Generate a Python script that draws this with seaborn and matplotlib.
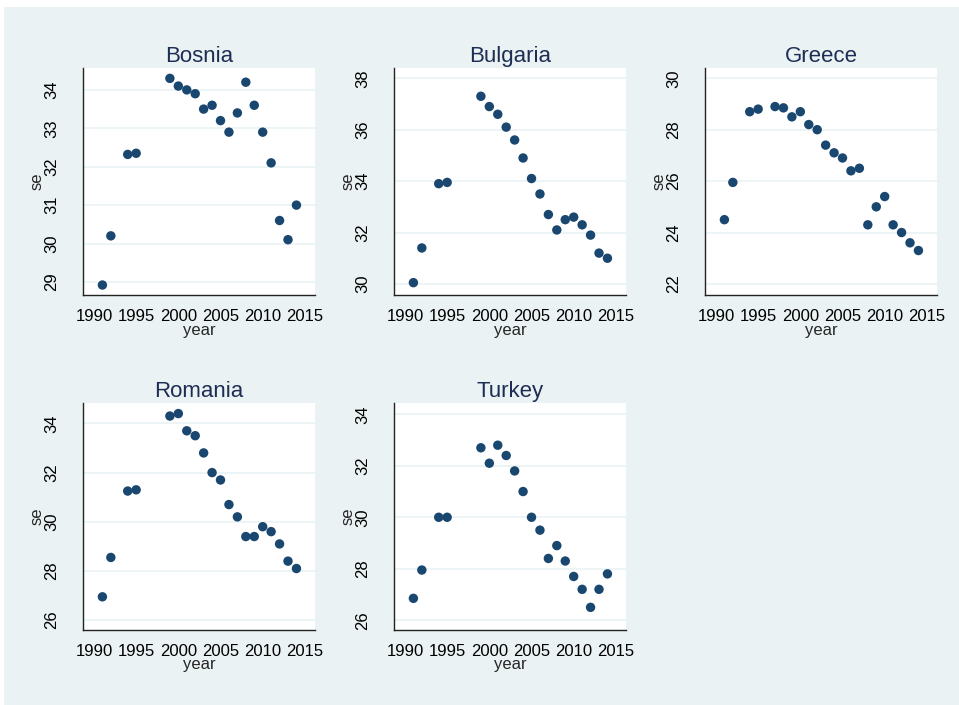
import pandas as pd
import seaborn as sns
import matplotlib.pyplot as plt
from matplotlib.patches import Rectangle

sns.set_style('white')
plt.rcParams['font.family'] = ['Liberation Sans', 'DejaVu Sans']

years = [1991, 1992, 1994, 1995, 1999, 2000, 2001, 2002, 2003, 2004,
         2005, 2006, 2007, 2008, 2009, 2010, 2011, 2012, 2013, 2014]
years_greece = [1991, 1992, 1994, 1995, 1997, 1998, 1999, 2000, 2001, 2002, 2003,
                2004, 2005, 2006, 2007, 2008, 2009, 2010, 2011, 2012, 2013, 2014]

bosnia = [28.92, 30.2, 32.32, 32.35, 34.3, 34.1, 34.0, 33.9, 33.5, 33.6,
          33.2, 32.9, 33.4, 34.2, 33.6, 32.9, 32.1, 30.6, 30.1, 31.0]
bulgaria = [30.05, 31.4, 33.9, 33.95, 37.3, 36.9, 36.6, 36.1, 35.6, 34.9,
            34.1, 33.5, 32.7, 32.1, 32.5, 32.6, 32.3, 31.9, 31.2, 31.0]
greece = [24.5, 25.95, 28.7, 28.8, 28.9, 28.85, 28.5, 28.7, 28.2, 28.0, 27.4,
          27.1, 26.9, 26.4, 26.5, 24.3, 25.0, 25.4, 24.3, 24.0, 23.6, 23.3]
romania = [26.95, 28.55, 31.25, 31.3, 34.3, 34.4, 33.7, 33.5, 32.8, 32.0,
           31.7, 30.7, 30.2, 29.4, 29.4, 29.8, 29.6, 29.1, 28.4, 28.1]
turkey = [26.85, 27.95, 30.0, 30.0, 32.7, 32.1, 32.8, 32.4, 31.8, 31.0,
          30.0, 29.5, 28.4, 28.9, 28.3, 27.7, 27.2, 26.5, 27.2, 27.8]

countries = ['Bosnia', 'Bulgaria', 'Greece', 'Romania', 'Turkey']
series = {'Bosnia': (years, bosnia), 'Bulgaria': (years, bulgaria),
          'Greece': (years_greece, greece), 'Romania': (years, romania),
          'Turkey': (years, turkey)}
yticks = {'Bosnia': [29, 30, 31, 32, 33, 34], 'Bulgaria': [30, 32, 34, 36, 38],
          'Greece': [22, 24, 26, 28, 30], 'Romania': [26, 28, 30, 32, 34],
          'Turkey': [26, 28, 30, 32, 34]}
ylims = {'Bosnia': (28.66, 34.57), 'Bulgaria': (29.57, 38.4), 'Greece': (21.57, 30.4),
         'Romania': (25.6, 34.83), 'Turkey': (25.62, 34.44)}

rows = []
for c in countries:
    for y, v in zip(*series[c]):
        rows.append({'country': c, 'year': y, 'se': v})
df = pd.DataFrame(rows)

W, H = 959, 705
bg = '#EAF2F3'
fig = plt.figure(figsize=(W / 100, H / 100), dpi=100)
fig.patch.set_facecolor('white')
# light stata-like background, leaves a thin white strip top and left
fig.add_artist(Rectangle((4 / W, 0), 1, 1 - 7 / H, transform=fig.transFigure,
                         facecolor=bg, edgecolor='none', zorder=-10))

lefts = [83, 394, 705]
positions = [(lefts[0], 68), (lefts[1], 68), (lefts[2], 68), (lefts[0], 403), (lefts[1], 403)]
aw, ah = 232, 227

for c, (lx, ty) in zip(countries, positions):
    ax = fig.add_axes([lx / W, 1 - (ty + ah) / H, aw / W, ah / H])
    ax.set_facecolor('white')
    sns.scatterplot(data=df[df['country'] == c], x='year', y='se', ax=ax,
                    color='#1A476F', s=46, edgecolor='none', zorder=3)
    ax.set_xlim(1988.7, 2016.2)
    ax.set_ylim(*ylims[c])
    ax.set_xticks([1990, 1995, 2000, 2005, 2010, 2015])
    ax.set_yticks(yticks[c])
    ax.set_yticklabels([str(t) for t in yticks[c]], rotation=90, va='center')
    ax.grid(axis='y', color=bg, linewidth=1.2)
    ax.set_axisbelow(True)
    for s in ['top', 'right']:
        ax.spines[s].set_visible(False)
    for s in ['left', 'bottom']:
        ax.spines[s].set_color('#222222')
        ax.spines[s].set_linewidth(1)
    ax.tick_params(axis='both', direction='out', length=5, width=1, color='#222222',
                   labelsize=12, labelcolor='black')
    ax.tick_params(axis='y', pad=12)
    ax.tick_params(axis='x', pad=5)
    ax.set_title(c, fontsize=16, color='#1E2D53', pad=4)
    ax.set_xlabel('year', fontsize=12, labelpad=-1)
    ax.set_ylabel('se', fontsize=12, labelpad=0)

fig.savefig('out.png', dpi=100, facecolor=fig.get_facecolor())
